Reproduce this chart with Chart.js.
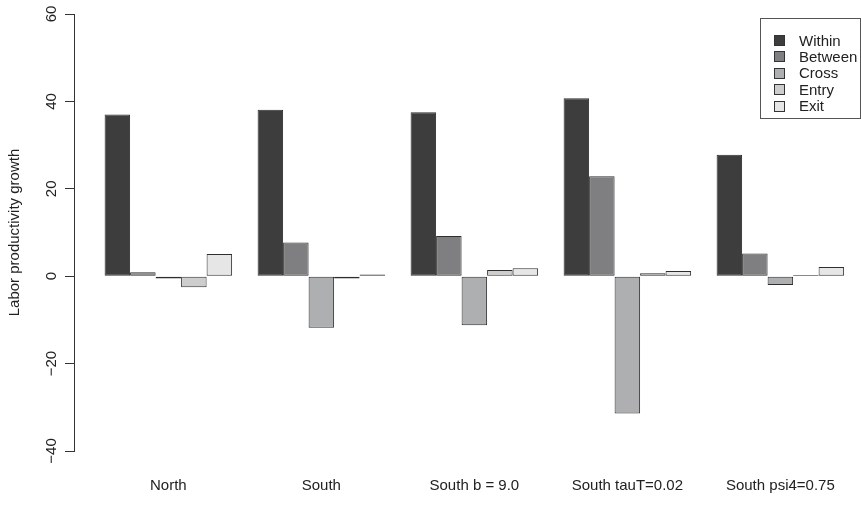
<!DOCTYPE html>
<html>
<head>
<meta charset="utf-8">
<script src="https://cdn.jsdelivr.net/npm/chart.js@4.4.0/dist/chart.umd.min.js"></script>
<style>
    html, body { margin: 0; padding: 0; background: #fff; }
    #wrap { width: 861px; height: 524px; position: relative; }
</style>
</head>
<body>
<div id="wrap"><canvas id="chart"></canvas></div>
<script>
const groups = ['North', 'South', 'South b = 9.0', 'South tauT=0.02', 'South psi4=0.75'];
const components = ['Within', 'Between', 'Cross', 'Entry', 'Exit'];
const within = [37.0, 38.1, 37.5, 40.7, 27.8];
const between = [0.9, 7.7, 9.2, 22.9, 5.2];
const cross = [-0.5, -11.8, -11.2, -31.4, -2.0];
const entry = [-2.5, -0.5, 1.4, 0.7, 0.3];
const exit = [5.1, 0.4, 1.8, 1.2, 2.1];
const yTicks = [-40, -20, 0, 20, 40, 60];

const fills = ['#3d3d3d', '#7f7f81', '#aeafb1', '#cdcdce', '#e6e6e7'];
const font = { family: '"Liberation Sans", Arial, sans-serif', size: 15 };

const series = [within, between, cross, entry, exit];
const datasets = series.map((vals, k) => ({
    label: components[k],
    data: vals.map((v, i) => ({ x: i, y: v })),
    backgroundColor: fills[k],
    borderColor: '#2e2e2e',
    borderWidth: 1,
    borderSkipped: false,
    categoryPercentage: 5 / 6,
    barPercentage: 1
}));

// boxed legend in the top right corner, R style
const boxLegend = {
    id: 'boxLegend',
    afterDraw(chart) {
        const ctx = chart.ctx;
        ctx.save();
        ctx.strokeStyle = '#555';
        ctx.lineWidth = 1;
        ctx.strokeRect(760.5, 18.5, 100, 100);
        ctx.font = `${font.size}px ${font.family}`;
        ctx.textBaseline = 'middle';
        chart.data.datasets.forEach((ds, k) => {
            const cy = 40.5 + k * 16.4;
            ctx.fillStyle = ds.backgroundColor;
            ctx.fillRect(774, Math.round(cy - 5.5), 11, 11);
            ctx.strokeStyle = '#333';
            ctx.strokeRect(774.5, Math.round(cy - 5.5) + 0.5, 10, 10);
            ctx.fillStyle = '#222';
            ctx.fillText(ds.label, 799, cy + 1);
        });
        ctx.restore();
    }
};

new Chart(document.getElementById('chart'), {
    type: 'bar',
    data: { datasets },
    options: {
        responsive: true,
        maintainAspectRatio: false,
        animation: false,
        layout: { padding: { top: 14, left: 0, right: 0, bottom: 0 } },
        plugins: {
            legend: { display: false },
            tooltip: { enabled: false }
        },
        scales: {
            x: {
                type: 'linear',
                offset: false,
                min: -0.6167,
                max: 4.5271,
                afterBuildTicks: scale => { scale.ticks = groups.map((_, i) => ({ value: i })); },
                afterFit: scale => { scale.height = 73; scale.paddingLeft = 0; scale.paddingRight = 0; },
                grid: { display: false, drawTicks: false, tickLength: 0 },
                border: { display: false },
                ticks: {
                    autoSkip: false,
                    maxRotation: 0,
                    padding: 26,
                    color: '#222',
                    font,
                    callback: v => groups[v]
                }
            },
            y: {
                min: -40,
                max: 60,
                afterBuildTicks: scale => { scale.ticks = yTicks.map(v => ({ value: v })); },
                afterFit: scale => { scale.width = 74; scale.paddingTop = 0; scale.paddingBottom = 0; },
                grid: { drawOnChartArea: false, drawTicks: true, tickLength: 9, color: '#333' },
                border: { display: true, color: '#333' },
                ticks: {
                    minRotation: 90,
                    maxRotation: 90,
                    crossAlign: 'center',
                    padding: 0,
                    color: '#222',
                    font,
                    callback: v => (v < 0 ? '\u2212' + Math.abs(v) : String(v))
                },
                title: {
                    display: true,
                    text: 'Labor productivity growth',
                    color: '#222',
                    font,
                    padding: { top: 6, bottom: 0 }
                }
            }
        }
    },
    plugins: [boxLegend]
});
</script>
</body>
</html>
